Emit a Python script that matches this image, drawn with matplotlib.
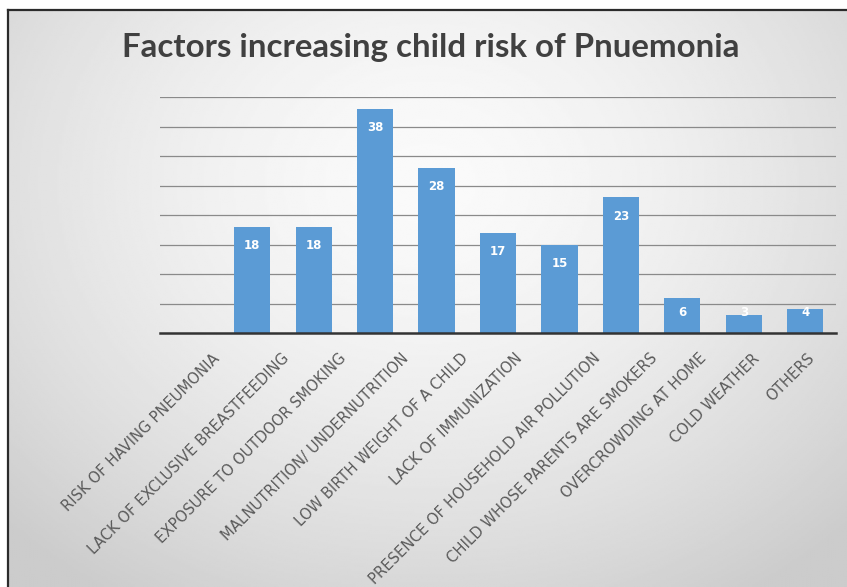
import numpy as np
import matplotlib
matplotlib.use("Agg")
from matplotlib import pyplot as plt
from matplotlib.transforms import offset_copy

factors = [
    "RISK OF HAVING PNEUMONIA",
    "LACK OF EXCLUSIVE BREASTFEEDING",
    "EXPOSURE TO OUTDOOR SMOKING",
    "MALNUTRITION/ UNDERNUTRITION",
    "LOW BIRTH WEIGHT OF A CHILD",
    "LACK OF IMMUNIZATION",
    "PRESENCE OF HOUSEHOLD AIR POLLUTION",
    "CHILD WHOSE PARENTS ARE SMOKERS",
    "OVERCROWDING AT HOME",
    "COLD WEATHER",
    "OTHERS",
]
counts = [0, 18, 18, 38, 28, 17, 15, 23, 6, 3, 4]

W, H = 847, 587
fig = plt.figure(figsize=(W / 100, H / 100), dpi=100)
fig.patch.set_facecolor("white")

# framed panel with a soft radial grey gradient
bg = fig.add_axes([8 / W, 0, (W - 8) / W, (H - 10) / H])
gy, gx = np.mgrid[0:1:300j, 0:1:400j]
r = np.sqrt(((gx - 0.5) / 0.75) ** 2 + ((gy - 0.3) / 0.9) ** 2)
shade = np.clip(0.98 - 0.2 * r ** 1.6, 0.8, 1.0)
bg.imshow(shade, cmap="gray", vmin=0, vmax=1, aspect="auto",
          extent=[0, 1, 1, 0], interpolation="bilinear")
bg.set_xticks([])
bg.set_yticks([])
for side in ["left", "top"]:
    bg.spines[side].set_color("#2b2b2b")
    bg.spines[side].set_linewidth(1.6)
for side in ["right", "bottom"]:
    bg.spines[side].set_visible(False)

fig.text(431 / W, 1 - 48 / H, "Factors increasing child risk of Pnuemonia",
         ha="center", va="center", fontsize=23.8, fontweight="bold",
         family="Lato", color="#404040")

ax = fig.add_axes([160 / W, 1 - 333 / H, 676 / W, 236 / H])
ax.patch.set_alpha(0)
x = np.arange(len(factors))
bars = ax.bar(x, counts, width=0.59, color="#5b9bd5", zorder=3)
ax.set_xlim(-0.5, len(factors) - 0.5)
ax.set_ylim(0, 40)
ax.set_yticks(np.arange(5, 41, 5))
ax.yaxis.grid(True, color="#8a8a8a", linewidth=0.9)
ax.set_axisbelow(True)
ax.tick_params(left=False, labelleft=False, bottom=False, labelbottom=False)
for side in ["left", "right", "top"]:
    ax.spines[side].set_visible(False)
ax.spines["bottom"].set_color("#333333")
ax.spines["bottom"].set_linewidth(1.8)
ax.spines["bottom"].set_zorder(4)

# value labels sit just inside the top of each bar
for xi, v in zip(x, counts):
    if v == 0:
        continue
    ax.text(xi, max(v - 3.2, 3.4), str(v), ha="center", va="center",
            color="white", fontsize=8.5, fontweight="bold", zorder=5)

# slanted category labels, shifted right a little more for longer names
base = ax.get_xaxis_transform()
for xi, name in zip(x, factors):
    tr = offset_copy(base, fig=fig, x=1.1 * len(name), y=-23, units="dots")
    ax.text(xi, 0, name, transform=tr, rotation=45, rotation_mode="anchor",
            ha="right", va="center", fontsize=10.6, color="#5a5a5a",
            clip_on=False)

fig.savefig("out.png", dpi=100)
